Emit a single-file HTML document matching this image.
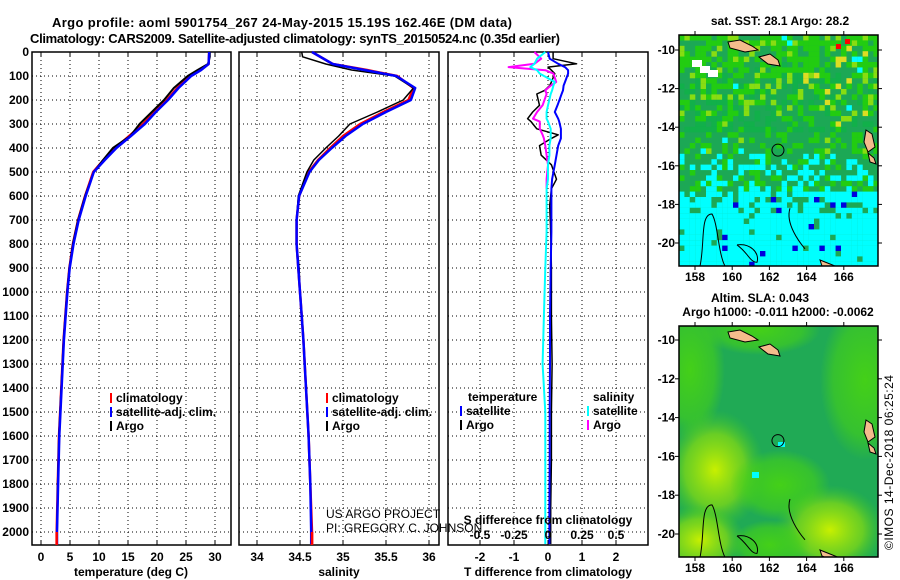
<!DOCTYPE html>
<html><head><meta charset="utf-8"><style>
html,body{margin:0;padding:0;background:#fff;}
svg{display:block;font-family:"Liberation Sans",sans-serif;}
.t{font-weight:bold;font-size:13px;}
.tk{font-weight:bold;font-size:12px;}
</style></head><body>
<svg id="c" width="900" height="580" viewBox="0 0 900 580" xmlns="http://www.w3.org/2000/svg">
<defs>
<clipPath id="cm1"><rect x="679" y="35" width="199" height="231"/></clipPath>
<clipPath id="cm2"><rect x="679" y="326" width="199" height="231"/></clipPath>
<radialGradient id="y1" cx="0.5" cy="0.5" r="0.5"><stop offset="0" stop-color="#c8f000"/><stop offset="0.6" stop-color="#88dd10" stop-opacity="0.7"/><stop offset="1" stop-color="#40cc20" stop-opacity="0"/></radialGradient>
<radialGradient id="g1" cx="0.5" cy="0.5" r="0.5"><stop offset="0" stop-color="#44d018"/><stop offset="0.7" stop-color="#44d018" stop-opacity="0.6"/><stop offset="1" stop-color="#44d018" stop-opacity="0"/></radialGradient>
</defs>
<text class="t" x="52" y="27" textLength="460">Argo profile: aoml 5901754_267 24-May-2015 15.19S 162.46E (DM data)</text>
<text class="t" x="30" y="43" textLength="530">Climatology: CARS2009. Satellite-adjusted climatology: synTS_20150524.nc (0.35d earlier)</text>
<g id="plots"></g>
<g id="maps"></g>
<text x="893" y="550" font-size="12" transform="rotate(-90 893 550)" textLength="175">©IMOS 14-Dec-2018 06:25:24</text>
</svg>
<script>
// ---- data ----
const depthClim = [0,50,75,100,150,200,250,300,350,400,450,500,600,700,800,900,1000,1200,1400,1600,1800,2000,2050];
const tempClim  = [29.0,28.9,27.5,25.7,23.5,21.7,19.6,17.6,15.2,12.8,10.8,9.0,7.6,6.4,5.5,4.9,4.5,3.9,3.5,3.1,2.9,2.7,2.7];
const tempSat   = [29.0,28.9,27.6,25.9,23.7,21.9,19.8,17.9,15.5,13.0,11.0,9.1,7.7,6.5,5.6,4.95,4.55,3.95,3.55,3.15,2.95,2.75,2.75];
const depthArgo = [0,20,50,75,100,150,200,250,300,350,400,450,500,600,700,800,900,1000,1200,1400,1600,1800,1950];
const tempArgo  = [29.1,29.1,28.8,27.0,25.3,22.9,21.2,19.1,17.0,15.4,12.4,10.7,9.1,7.6,6.4,5.5,4.9,4.5,3.9,3.5,3.1,2.9,2.8];
const salClim   = [34.64,34.88,35.28,35.63,35.82,35.76,35.47,35.2,35.0,34.85,34.71,34.6,34.49,34.46,34.46,34.48,34.5,34.54,34.57,34.6,34.62,34.64,34.64];
const salSat    = [34.64,34.88,35.25,35.62,35.84,35.79,35.5,35.23,35.03,34.87,34.72,34.61,34.49,34.46,34.46,34.48,34.5,34.54,34.57,34.6,34.62,34.63,34.63];
const salArgo   = [34.52,34.53,34.8,35.1,35.6,35.82,35.7,35.4,35.08,34.95,34.8,34.66,34.58,34.48,34.46,34.46,34.49,34.5,34.54,34.57,34.6,34.62,34.63];
const depthDiff = [0,28,49,63,76,90,125,140,160,175,222,250,278,290,320,345,360,390,430,470,530,570,640,750,900,1100,1300,1500,1700,1900,2050];
const dTsat     = [0,0.05,0.3,0.5,0.59,0.59,0.5,0.46,0.44,0.4,0.28,0.2,0.3,0.33,0.38,0.38,0.38,0.3,0.25,0.2,0.12,0.1,0.1,0.1,0.08,0.06,0.06,0.05,0.05,0.04,0.04];
const dTargo    = [0.15,0.15,0.84,0.0,0.1,0.2,0.1,0.05,-0.1,-0.33,-0.25,-0.45,-0.6,-0.5,-0.33,0.3,0.1,-0.25,-0.2,0.1,0.25,0.1,0.05,0.08,0.1,0.1,0.12,0.1,0.1,0.08,0.08];
const dSsat     = [-0.02,-0.08,-0.1,-0.13,-0.08,-0.06,0.05,0.04,0.03,0.02,0.0,-0.01,-0.01,0.0,0.02,0.02,0.02,0.01,0.01,0.0,0.0,-0.01,-0.01,-0.01,-0.02,-0.03,-0.04,-0.02,-0.02,-0.02,-0.02];
const dSargo    = [-0.1,-0.05,-0.1,-0.29,-0.02,0.04,0.06,0.02,-0.02,-0.01,-0.04,-0.08,-0.11,-0.06,-0.06,-0.04,-0.03,-0.02,-0.01,0.0,-0.01,-0.01,null,null,null,null,null,null,null,null,null];
const depthTicks = [0,100,200,300,400,500,600,700,800,900,1000,1100,1200,1300,1400,1500,1600,1700,1800,1900,2000];
const tempTicks = [0,5,10,15,20,25,30];
const salTicks = [34,34.5,35,35.5,36];
const tdTicks = [-2,-1,0,1,2];
const sdTicks = [-0.5,-0.25,0,0.25,0.5];
const sdLabels = ['-0.5','-0.25','0','0.25','0.5'];

const NS='http://www.w3.org/2000/svg';
function mk(tag,attrs,parent,txt){const e=document.createElementNS(NS,tag);for(const k in attrs)e.setAttribute(k,attrs[k]);if(txt!==undefined)e.textContent=txt;parent.appendChild(e);return e;}
const plots=document.getElementById('plots');
const yD = d => 52 + d*0.24;
const PT=52,PB=545;
const panels=[
 {x0:32,x1:231,sx:v=>41+v*5.8,ticks:tempTicks,lab:tempTicks.map(String),xl:'temperature (deg C)',xlx:131,name:'temperature-panel'},
 {x0:239,x1:439,sx:v=>257+(v-34)*86,ticks:salTicks,lab:salTicks.map(String),xl:'salinity',xlx:339,name:'salinity-panel'},
 {x0:448,x1:648,sx:v=>548+v*34,ticks:tdTicks,lab:tdTicks.map(String),xl:'T difference from climatology',xlx:548,name:'difference-panel'}
];
panels.forEach((p,pi)=>{
  const g=mk('g',{},plots);
  
  
  depthTicks.forEach(d=>{ if(d>0) mk('line',{x1:p.x0,x2:p.x1,y1:yD(d),y2:yD(d),stroke:'#000','stroke-dasharray':'1,3','stroke-width':1},g);});
  p.ticks.forEach(v=>{const x=p.sx(v);mk('line',{x1:x,x2:x,y1:PT,y2:PB,stroke:'#000','stroke-dasharray':'1,3'},g);
    mk('line',{x1:x,x2:x,y1:PB,y2:PB-4,stroke:'#000'},g);mk('line',{x1:x,x2:x,y1:PT,y2:PT+4,stroke:'#000'},g);});
  p.ticks.forEach((v,i)=>{const t=mk('text',{x:p.sx(v),y:561,'text-anchor':'middle',class:'tk'},g,p.lab[i]);
    });
  const xt=mk('text',{x:p.xlx,y:576,'text-anchor':'middle',class:'tk'},g,p.xl);
  
  mk('rect',{x:p.x0,y:PT,width:p.x1-p.x0,height:PB-PT,fill:'none',stroke:'#000','stroke-width':1.5},g);
});
depthTicks.forEach(d=>{const t=mk('text',{x:29,y:yD(d)+4,'text-anchor':'end',class:'tk'},plots,String(d));
  });
function line(ds,vs,sx,color,w,name){
  let pts=[];ds.forEach((d,i)=>{if(vs[i]!==null&&vs[i]!==undefined)pts.push(sx(vs[i]).toFixed(1)+','+yD(d).toFixed(1));});
  const e=mk('polyline',{points:pts.join(' '),fill:'none',stroke:color,'stroke-width':w,'stroke-linejoin':'round'},plots);
  
}
const P=panels;
line(depthClim,tempClim,P[0].sx,'#f00',2.5,'temp-climatology-line');
line(depthArgo,tempArgo,P[0].sx,'#000',2,'temp-argo-line');
line(depthClim,tempSat,P[0].sx,'#00f',2.5,'temp-satellite-line');
line(depthClim,salClim,P[1].sx,'#f00',2.5,'sal-climatology-line');
line(depthArgo,salArgo,P[1].sx,'#000',1.5,'sal-argo-line');
line(depthClim,salSat,P[1].sx,'#00f',2.5,'sal-satellite-line');
const sdx=v=>548+v*136;
line(depthDiff,dTargo,P[2].sx,'#000',1.5,'tdiff-argo-line');
line(depthDiff,dTsat,P[2].sx,'#00f',2,'tdiff-satellite-line');
line(depthDiff,dSargo,sdx,'#f0f',2,'sdiff-argo-line');
line(depthDiff,dSsat,sdx,'#0ff',2,'sdiff-satellite-line');
mk('line',{x1:P[0].sx(2.7),x2:P[0].sx(2.7),y1:yD(2000),y2:PB,stroke:'#f00','stroke-width':2.5},plots);
mk('line',{x1:P[1].sx(34.64),x2:P[1].sx(34.64),y1:yD(2000),y2:PB,stroke:'#f00','stroke-width':2.5},plots);
const sdt=mk('text',{x:548,y:524,'text-anchor':'middle',class:'tk'},plots,'S difference from climatology');

sdTicks.forEach((v,i)=>{const t=mk('text',{x:sdx(v),y:539,'text-anchor':'middle',class:'tk'},plots,sdLabels[i]);
  });
const cr=mk('text',{x:326,y:518,'font-size':12},plots,'US ARGO PROJECT');
const cr2=mk('text',{x:326,y:532,'font-size':12},plots,'PI: GREGORY C. JOHNSON');
function leg(x,y,color,label){const g=mk('g',{},plots);
  mk('line',{x1:x,x2:x,y1:y-9,y2:y+1,stroke:color,'stroke-width':2},g);mk('text',{x:x+5,y:y,class:'tk'},g,label);}
leg(111,402,'#f00','climatology');leg(111,416,'#00f','satellite-adj. clim.');leg(111,430,'#000','Argo');
leg(327,402,'#f00','climatology');leg(327,416,'#00f','satellite-adj. clim.');leg(327,430,'#000','Argo');
mk('text',{x:468,y:401,class:'tk'},plots,'temperature');
leg(461,415,'#00f','satellite');leg(461,429,'#000','Argo');
mk('text',{x:593,y:401,class:'tk'},plots,'salinity');
leg(588,415,'#0ff','satellite');leg(588,429,'#f0f','Argo');

// ---- maps ----
const maps=document.getElementById('maps');
const lonX=lo=>695+(lo-158)*18.6;
const latY1=la=>50+(-10-la)*19.3;
const latY2=la=>340+(-10-la)*19.4;
function hash(i,j){let h=(i*374761393+j*668265263)>>>0;h=(h^(h>>>13))*1274126177>>>0;return ((h^(h>>>16))>>>0)/4294967296;}
const m1=mk('g',{'clip-path':'url(#cm1)'},maps);

mk('rect',{x:679,y:35,width:199,height:231,fill:'#1ca855'},m1);
for(let j=0;j<43;j++)for(let i=0;i<37;i++){
  const x=679+i*5.4,y=35+j*5.4,r=hash(i,j),r2=hash(i+99,j+7);
  let c=null;
  if(y<130){ const f=(130-y)/95;
    if(r<0.35*f+0.15)c='#22cc11'; else if(r<0.5*f+0.18)c='#88dd11'; else if(x>800&&r<0.6*f+0.2)c='#dddd22'; else if(r<0.6)c='#11b04a';
    if(r2>0.985)c='#00ffff';}
  else if(y<150){ if(r<0.3)c='#22cc11'; else if(r<0.35)c='#88dd11'; if(r2>0.97)c='#00ffff';}
  else if(y<188){ if(r<0.25)c='#00ffff'; else if(r<0.4)c='#22cc11';}
  else { c='#00ffff'; if(y<210&&r<0.3)c='#1ca855'; else if(r<0.06)c='#1ca855'; if(r2<0.035)c='#0000dd';}
  if(c)mk('rect',{x:x,y:y,width:5.5,height:5.5,fill:c},m1);
}
[[692,60],[700,66],[708,70]].forEach(p=>mk('rect',{x:p[0],y:p[1],width:10,height:7,fill:'#fff'},m1));
mk('rect',{x:836,y:44,width:5,height:5,fill:'#f00'},m1);mk('rect',{x:845,y:39,width:5,height:5,fill:'#f00'},m1);
const m2=mk('g',{'clip-path':'url(#cm2)'},maps);

mk('rect',{x:679,y:326,width:199,height:231,fill:'#20aa55'},m2);
mk('ellipse',{cx:690,cy:370,rx:35,ry:70,fill:'url(#g1)'},m2);
mk('ellipse',{cx:865,cy:380,rx:45,ry:80,fill:'url(#g1)'},m2);
mk('ellipse',{cx:760,cy:330,rx:60,ry:25,fill:'url(#g1)'},m2);
mk('ellipse',{cx:715,cy:470,rx:50,ry:60,fill:'url(#y1)'},m2);
mk('ellipse',{cx:780,cy:485,rx:50,ry:35,fill:'url(#g1)'},m2);
mk('ellipse',{cx:830,cy:530,rx:55,ry:45,fill:'url(#y1)'},m2);
mk('ellipse',{cx:700,cy:540,rx:45,ry:35,fill:'url(#y1)'},m2);
mk('ellipse',{cx:770,cy:545,rx:40,ry:25,fill:'url(#g1)'},m2);
mk('rect',{x:778,y:442,width:7,height:5,fill:'#00ffff'},m2);mk('rect',{x:752,y:472,width:7,height:6,fill:'#00ffff'},m2);
function islands(g,ly){
  const col='#f4bc8c';const o=ly(-10)-48;
  [[[728,40],[740,38],[752,44],[758,48],[745,50],[730,46]],[[759,55],[770,52],[778,58],[780,64],[768,62]],
   [[866,128],[872,132],[875,145],[868,150],[864,140]],[[820,258],[830,262],[845,268],[835,270],[822,264]],
   [[868,151],[874,156],[876,162],[870,160]]].forEach(pts=>{
    mk('polygon',{points:pts.map(p=>p[0]+','+(o+p[1])).join(' '),fill:col,stroke:'#000','stroke-width':1},g);});
  mk('circle',{cx:lonX(162.46),cy:ly(-15.19),r:6,fill:'none',stroke:'#000','stroke-width':1},g);
  mk('path',{d:`M 700 ${ly(-21.2)} C 705 ${ly(-20)} 700 ${ly(-18.5)} 712 ${ly(-18.5)} C 718 ${ly(-19)} 718 ${ly(-20.5)} 725 ${ly(-21.2)}`,fill:'none',stroke:'#000','stroke-width':1},g);
  mk('path',{d:`M 737 ${ly(-20.1)} C 750 ${ly(-20)} 760 ${ly(-20.5)} 757 ${ly(-21)} C 750 ${ly(-21)} 748 ${ly(-20.5)} 737 ${ly(-20.1)}`,fill:'none',stroke:'#000','stroke-width':1},g);
  mk('path',{d:`M 790 ${ly(-18.2)} C 785 ${ly(-19)} 800 ${ly(-20)} 805 ${ly(-20.3)}`,fill:'none',stroke:'#000','stroke-width':1},g);
}
islands(m1,latY1);islands(m2,latY2);
[[679,35,266,latY1,'sst'],[679,326,557,latY2,'sla']].forEach(([x0,y0,y1,ly,nm])=>{
  const g=mk('g',{},maps);
  mk('rect',{x:x0,y:y0,width:199,height:y1-y0,fill:'none',stroke:'#000','stroke-width':1.5},g);
  [-10,-12,-14,-16,-18,-20].forEach(la=>{const y=ly(la);mk('line',{x1:878,x2:882,y1:y,y2:y,stroke:'#000'},g);
    mk('line',{x1:675,x2:679,y1:y,y2:y,stroke:'#000'},g);
    mk('text',{x:675,y:y+4,'text-anchor':'end',class:'tk'},g,String(la));});
  [158,160,162,164,166].forEach(lo=>{const x=lonX(lo);mk('line',{x1:x,x2:x,y1:y1,y2:y1+4,stroke:'#000'},g);
    mk('line',{x1:x,x2:x,y1:y0,y2:y0-4,stroke:'#000'},g);
    mk('text',{x:x,y:y1+15,'text-anchor':'middle',class:'tk'},g,String(lo));});
});
const mt1=mk('text',{x:780,y:25,'text-anchor':'middle',class:'tk'},maps,'sat. SST: 28.1 Argo: 28.2');
const mt2=mk('text',{x:760,y:302,'text-anchor':'middle',class:'tk'},maps,'Altim. SLA: 0.043');
const mt3=mk('text',{x:778,y:316,'text-anchor':'middle',class:'tk'},maps,'Argo h1000: -0.011 h2000: -0.0062');
</script>
</body></html>
